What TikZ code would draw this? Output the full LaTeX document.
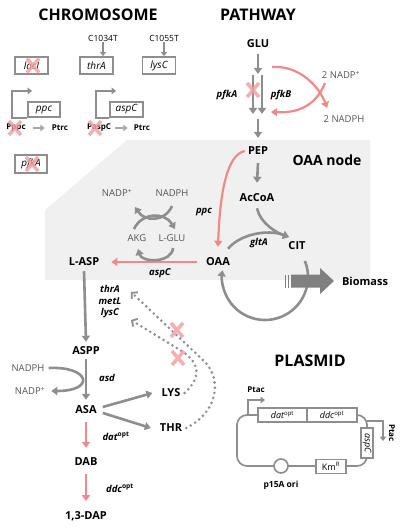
\documentclass[tikz,border=0pt]{standalone}
\usepackage{fontspec}
\setmainfont{Open Sans}
\usetikzlibrary{arrows.meta,calc}
\definecolor{gline}{HTML}{8E8E8E}
\definecolor{lgline}{HTML}{A8A8A8}
\definecolor{pinkline}{HTML}{F08A8A}
\definecolor{xpink}{HTML}{F4A0A0}
\definecolor{region}{HTML}{F0F0F0}
\definecolor{txtgray}{HTML}{555555}
\definecolor{bioarrow}{HTML}{808080}
\tikzset{
 big/.style={font=\bfseries\fontsize{11}{13}\selectfont, inner sep=1pt},
 title/.style={font=\bfseries\fontsize{16}{18}\selectfont, inner sep=1pt},
 small/.style={font=\fontsize{9.5}{11}\selectfont, text=txtgray, inner sep=1pt},
 gene/.style={font=\bfseries\itshape\fontsize{9.5}{11.5}\selectfont, inner sep=1pt},
 mut/.style={font=\fontsize{8.5}{10}\selectfont, inner sep=1pt},
 genebox/.style={draw=gline, line width=1.8pt, fill=white, font=\itshape\fontsize{10}{12}\selectfont, minimum width=33pt, minimum height=17pt, inner sep=0pt},
 pbox/.style={draw=gline, line width=1.6pt, fill=white, font=\fontsize{9}{11}\selectfont, inner sep=0pt},
 prom/.style={font=\bfseries\fontsize{8}{10}\selectfont, inner sep=1pt},
 garr/.style={draw=gline, line width=2.6pt, -{Triangle[length=6pt,width=8pt]}},
 parr/.style={draw=pinkline, line width=2.6pt, -{Triangle[length=6pt,width=8pt]}},
 thinarr/.style={draw=gline, line width=1.5pt, -{Triangle[length=4pt,width=6pt]}},
 smallarr/.style={draw=lgline, line width=2pt, -{Triangle[length=4.5pt,width=6.5pt]}},
 promline/.style={draw=gline, line width=1.7pt, -{Triangle[length=4.5pt,width=6.5pt]}},
 dotarr/.style={draw=gline, line width=2.9pt, line cap=round, dash pattern=on 0pt off 5.2pt, -{Straight Barb[length=4pt,width=9pt,line width=1.8pt]}},
 crossx/.pic={\draw[xpink, line width=3.5pt, opacity=0.85] (-6,-7)--(6,7) (-6,7)--(6,-7);},
}
\begin{document}
\begin{tikzpicture}[x=1pt,y=-1pt]
\useasboundingbox (0,0) rectangle (400,529);
% OAA node region
\fill[region] (127,140) -- (370,140) -- (370,280) -- (45,280) -- (45,210) -- cycle;

% titles
\node[title] (chrom) at (98,15) {CHROMOSOME};
\node[title] (pathw) at (258,15) {PATHWAY};
\node[title] (plasmid) at (310,361) {PLASMID};

% ---------- chromosome ----------
\node[genebox] (lacI) at (31.5,65.5) {lacI};
\node[genebox] (thrAbox) at (96.5,65.5) {thrA};
\node[genebox] (lysCbox) at (159,65.5) {lysC};
\node[mut] (c1034) at (103,38) {C1034T};
\node[mut] (c1055) at (164,38) {C1055T};
\draw[thinarr] (c1034.south) -- (c1034.south |- thrAbox.north);
\draw[thinarr] (c1055.south) -- (c1055.south |- lysCbox.north);

\node[genebox, minimum width=32pt, minimum height=15pt] (ppcbox) at (44,109.5) {ppc};
\node[genebox, minimum width=33pt, minimum height=15pt] (aspCbox) at (126.5,109.5) {aspC};
\draw[promline] (ppcbox.south west) -- ++(-15,0) -- ++(0,-27) -- ++(20,0);
\draw[promline] (aspCbox.south west) -- ++(-13,0) -- ++(0,-27) -- ++(20,0);

\node[prom] (pppc) at (16,128) {Pppc};
\node[prom] (ptrc1) at (60,128) {Ptrc};
\node[prom] (paspc) at (99,128) {PaspC};
\node[prom] (ptrc2) at (142,128) {Ptrc};
\draw[smallarr] ([xshift=6pt]pppc.east) -- ([xshift=-6pt]ptrc1.west);
\draw[smallarr] ([xshift=3pt]paspc.east) -- ([xshift=-5pt]ptrc2.west);

\node[genebox, minimum width=32pt, minimum height=18pt] (pfkAbox) at (31,164) {pfkA};

\pic at (33,65.5) {crossx};
\pic at (15,128) {crossx};
\pic at (95,128) {crossx};
\pic at (32,164) {crossx};

% ---------- pathway ----------
\node[big] (glu) at (258,44) {GLU};
\coordinate (pf1) at (258,74);
\coordinate (pfa1) at (253,75);
\coordinate (pfa2) at (253,114);
\coordinate (pfb1) at (262,75);
\coordinate (pfb2) at (262,114);
\draw[garr] ([yshift=-5pt]glu.south) -- (pf1);
\draw[garr] (pfa1) -- (pfa2);
\draw[garr] (pfb1) -- (pfb2);
\node[gene] (pfkAlbl) at (227,95) {pfkA};
\node[gene] (pfkBlbl) at (281,95) {pfkB};
\pic at (253,90) {crossx};

\node[small] (nadp2) at (341,75) {2 NADP\textsuperscript{+}};
\node[small] (nadph2) at (344,119) {2 NADPH};
\coordinate (ra1) at (272,67);
\coordinate (ra2) at (327,108);
\coordinate (rb1) at (325,83);
\coordinate (rb2) at (271,112);
\draw[parr, line width=2.2pt] (ra1) .. controls (300,65) and (320,88) .. (ra2);
\draw[parr, line width=2.2pt] (rb1) .. controls (315,108) and (295,113) .. (rb2);

\node[big] (pep) at (258,151) {PEP};
\coordinate (pf3) at (258,119);
\draw[garr] (pf3) -- ([yshift=8pt]pep.north);
\node[font=\bfseries\fontsize{14}{16}\selectfont, inner sep=1pt] (oaanode) at (327,160) {OAA node};
\node[big] (acoa) at (257,198) {AcCoA};
\node[big] (cit) at (297,246) {CIT};
\node[big] (oaa) at (218,262) {OAA};
\node[big] (lasp) at (84,262) {L-ASP};

\draw[garr] ([yshift=-7pt]pep.south) -- ([yshift=10pt]acoa.north);
\draw[parr, line width=2.2pt] ([xshift=-2pt]pep.west) .. controls +(-18,4) and +(2,-55) .. ([yshift=10pt]oaa.north);
\node[gene] (ppclbl) at (204,212) {ppc};

\coordinate (citin) at (289,237);
\draw[garr] ([yshift=-5pt]acoa.south) .. controls +(3,15) and +(-12,-4) .. (citin);
\draw[garr] ($(oaa.north east)+(-3,-8)$) .. controls (240,234) and (268,229) .. (citin);
\node[gene] (gltAlbl) at (259,243) {gltA};

\coordinate (cycc) at (265,277);
\draw[garr] ($(cycc)+(-22:43)$) arc[start angle=-22, end angle=189, radius=43];

\fill[bioarrow] (291,274.5) -- (320,274.5) -- (320,268) -- (334,281) -- (320,294) -- (320,287.5) -- (291,287.5) -- cycle;
\foreach \x in {285.3,287.6} \fill[bioarrow] (\x,274.5) rectangle ++(1.1,13);
\node[big] (biomass) at (365,281) {Biomass};

\draw[parr] ([xshift=-8pt]oaa.west) -- ([xshift=11pt]lasp.east);
\node[gene] (aspClbl) at (160,273) {aspC};

% NADP cycle
\node[small] (nadp1) at (117,193) {NADP\textsuperscript{+}};
\node[small] (nadph1) at (172,193) {NADPH};
\node[small] (akg) at (137,238) {AKG};
\node[small] (lglu) at (172,238) {L-GLU};
\coordinate (c1a) at (172,206);
\coordinate (c1b) at (135,207);
\coordinate (c2a) at (134,229);
\coordinate (c2b) at (175,229);
\coordinate (c3a) at (173,248);
\coordinate (c3b) at (138,249);
\draw[garr] (c1a) .. controls (165,222) and (145,222) .. (c1b);
\draw[garr] (c2a) .. controls (142,212) and (165,212) .. (c2b);
\draw[garr] (c3a) .. controls (172,263) and (142,263) .. (c3b);

% lower left
\node[big] (aspp) at (86,351) {ASPP};
\draw[garr] ([yshift=-4pt]lasp.south) -- ([yshift=4pt]aspp.north);
\node[gene, align=center] (tml) at (110,302) {thrA\\metL\\lysC};
\node[big] (asa) at (86,410) {ASA};
\draw[garr] ([yshift=-3pt]aspp.south) -- ([yshift=5pt]asa.north);
\node[gene] (asdlbl) at (107,378) {asd};
\node[small] (nadph3) at (28,368) {NADPH};
\node[small] (nadp3) at (30,391) {NADP\textsuperscript{+}};
\draw[garr] ([xshift=3pt]nadph3.east) .. controls (90,366) and (96,391) .. ([xshift=5pt]nadp3.east);

\node[big] (lys) at (171,393) {LYS};
\node[big] (thr) at (171,428) {THR};
\draw[garr] ($(asa.east)+(5,-3)$) -- ([xshift=-8pt]lys.west);
\draw[garr] ($(asa.east)+(5,3)$) -- ([xshift=-8pt]thr.west);

\node[big] (dab) at (86,462) {DAB};
\node[big] (dap) at (86,516) {1,3-DAP};
\draw[parr] ([yshift=-7pt]asa.south) -- ([yshift=9pt]dab.north);
\draw[parr] ([yshift=-7pt]dab.south) -- ([yshift=9pt]dap.north);
\node[gene] (datlbl) at (116,436) {dat\textsuperscript{\upshape opt}};
\node[gene] (ddclbl) at (120,488) {ddc\textsuperscript{\upshape opt}};

% feedback dotted
\coordinate (dotend1) at (131,320);
\coordinate (dotend2) at (131,292);
\draw[dotarr] ([xshift=3pt]lys.east) .. controls (202,377) and (200,362) .. (180,350) -- (dotend1);
\draw[dotarr] ([xshift=3pt]thr.east) .. controls (218,412) and (222,380) .. (205,362) -- (dotend2);
\pic at (177,330) {crossx};
\pic at (178,358) {crossx};

% ---------- plasmid ----------
\draw[gline, line width=1.7pt, rounded corners=10pt] (237,415) rectangle (367,466);
\node[pbox, minimum width=49pt, minimum height=14pt] (dat) at (282.5,415) {\itshape dat\textsuperscript{\upshape opt}};
\node[pbox, minimum width=50pt, minimum height=14pt] (ddc) at (332,415) {\itshape ddc\textsuperscript{\upshape opt}};
\node[pbox, minimum width=30pt, minimum height=12pt, rotate=-90] (aspCp) at (367,443) {\itshape aspC};
\node[circle, draw=gline, line width=1.6pt, fill=white, minimum size=14pt, inner sep=0pt] (ori) at (281,466) {};
\node[pbox, minimum width=30pt, minimum height=14pt] (km) at (331,466.5) {Km\textsuperscript{R}};
\node[prom] (ptac1) at (256,390) {Ptac};
\node[prom, rotate=-90] (ptac2) at (392,433) {Ptac};
\node[prom, font=\bfseries\fontsize{8.5}{10}\selectfont] (orilbl) at (281,485) {p15A ori};
\coordinate (pl1) at (248,415);
\coordinate (pl2) at (367,421);
\draw[promline, line width=1.5pt] (pl1) -- ++(0,-15) -- ++(17,0);
\draw[promline, line width=1.5pt] (pl2) -- ++(16,0) -- ++(0,20);
\end{tikzpicture}
\end{document}
